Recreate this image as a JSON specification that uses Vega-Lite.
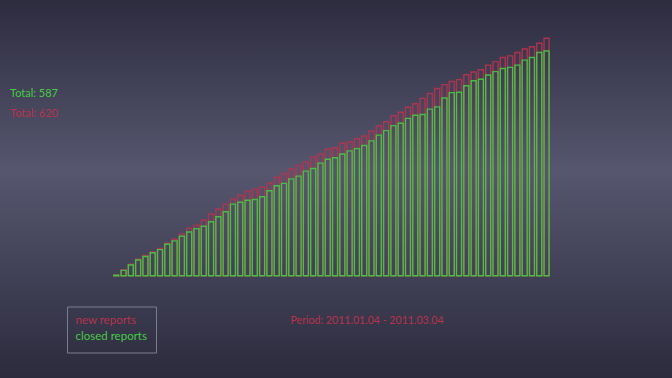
{
  "$schema": "https://vega.github.io/schema/vega-lite/v6.json",
  "width": 672,
  "height": 378,
  "autosize": {"type": "none"},
  "padding": 0,
  "background": "#45455e",
  "config": {
    "view": {
      "stroke": null,
      "fill": {"gradient": "linear", "x1": 0, "y1": 0, "x2": 0, "y2": 1,
        "stops": [
          {"offset": 0, "color": "#2d2c3f"},
          {"offset": 0.45, "color": "#56566f"},
          {"offset": 1, "color": "#2c2b3d"}
        ]}
    },
    "font": "Lato"
  },
  "datasets": {
    "reports": [
      {"date": "2011-01-04", "series": "new reports", "total": "Total: 620", "count": 1},
      {"date": "2011-01-05", "series": "new reports", "total": "Total: 620", "count": 15},
      {"date": "2011-01-06", "series": "new reports", "total": "Total: 620", "count": 30},
      {"date": "2011-01-07", "series": "new reports", "total": "Total: 620", "count": 43},
      {"date": "2011-01-08", "series": "new reports", "total": "Total: 620", "count": 53},
      {"date": "2011-01-09", "series": "new reports", "total": "Total: 620", "count": 62},
      {"date": "2011-01-10", "series": "new reports", "total": "Total: 620", "count": 71},
      {"date": "2011-01-11", "series": "new reports", "total": "Total: 620", "count": 85},
      {"date": "2011-01-12", "series": "new reports", "total": "Total: 620", "count": 96},
      {"date": "2011-01-13", "series": "new reports", "total": "Total: 620", "count": 109},
      {"date": "2011-01-14", "series": "new reports", "total": "Total: 620", "count": 124},
      {"date": "2011-01-15", "series": "new reports", "total": "Total: 620", "count": 132},
      {"date": "2011-01-16", "series": "new reports", "total": "Total: 620", "count": 145},
      {"date": "2011-01-17", "series": "new reports", "total": "Total: 620", "count": 161},
      {"date": "2011-01-18", "series": "new reports", "total": "Total: 620", "count": 174},
      {"date": "2011-01-19", "series": "new reports", "total": "Total: 620", "count": 187},
      {"date": "2011-01-20", "series": "new reports", "total": "Total: 620", "count": 200},
      {"date": "2011-01-21", "series": "new reports", "total": "Total: 620", "count": 210},
      {"date": "2011-01-22", "series": "new reports", "total": "Total: 620", "count": 221},
      {"date": "2011-01-23", "series": "new reports", "total": "Total: 620", "count": 226},
      {"date": "2011-01-24", "series": "new reports", "total": "Total: 620", "count": 231},
      {"date": "2011-01-25", "series": "new reports", "total": "Total: 620", "count": 241},
      {"date": "2011-01-26", "series": "new reports", "total": "Total: 620", "count": 257},
      {"date": "2011-01-27", "series": "new reports", "total": "Total: 620", "count": 267},
      {"date": "2011-01-28", "series": "new reports", "total": "Total: 620", "count": 279},
      {"date": "2011-01-29", "series": "new reports", "total": "Total: 620", "count": 288},
      {"date": "2011-01-30", "series": "new reports", "total": "Total: 620", "count": 297},
      {"date": "2011-01-31", "series": "new reports", "total": "Total: 620", "count": 310},
      {"date": "2011-02-01", "series": "new reports", "total": "Total: 620", "count": 318},
      {"date": "2011-02-02", "series": "new reports", "total": "Total: 620", "count": 331},
      {"date": "2011-02-03", "series": "new reports", "total": "Total: 620", "count": 334},
      {"date": "2011-02-04", "series": "new reports", "total": "Total: 620", "count": 346},
      {"date": "2011-02-05", "series": "new reports", "total": "Total: 620", "count": 349},
      {"date": "2011-02-06", "series": "new reports", "total": "Total: 620", "count": 358},
      {"date": "2011-02-07", "series": "new reports", "total": "Total: 620", "count": 365},
      {"date": "2011-02-08", "series": "new reports", "total": "Total: 620", "count": 378},
      {"date": "2011-02-09", "series": "new reports", "total": "Total: 620", "count": 391},
      {"date": "2011-02-10", "series": "new reports", "total": "Total: 620", "count": 402},
      {"date": "2011-02-11", "series": "new reports", "total": "Total: 620", "count": 418},
      {"date": "2011-02-12", "series": "new reports", "total": "Total: 620", "count": 427},
      {"date": "2011-02-13", "series": "new reports", "total": "Total: 620", "count": 440},
      {"date": "2011-02-14", "series": "new reports", "total": "Total: 620", "count": 449},
      {"date": "2011-02-15", "series": "new reports", "total": "Total: 620", "count": 463},
      {"date": "2011-02-16", "series": "new reports", "total": "Total: 620", "count": 476},
      {"date": "2011-02-17", "series": "new reports", "total": "Total: 620", "count": 489},
      {"date": "2011-02-18", "series": "new reports", "total": "Total: 620", "count": 499},
      {"date": "2011-02-19", "series": "new reports", "total": "Total: 620", "count": 507},
      {"date": "2011-02-20", "series": "new reports", "total": "Total: 620", "count": 512},
      {"date": "2011-02-21", "series": "new reports", "total": "Total: 620", "count": 525},
      {"date": "2011-02-22", "series": "new reports", "total": "Total: 620", "count": 532},
      {"date": "2011-02-23", "series": "new reports", "total": "Total: 620", "count": 538},
      {"date": "2011-02-24", "series": "new reports", "total": "Total: 620", "count": 550},
      {"date": "2011-02-25", "series": "new reports", "total": "Total: 620", "count": 559},
      {"date": "2011-02-26", "series": "new reports", "total": "Total: 620", "count": 570},
      {"date": "2011-02-27", "series": "new reports", "total": "Total: 620", "count": 574},
      {"date": "2011-02-28", "series": "new reports", "total": "Total: 620", "count": 583},
      {"date": "2011-03-01", "series": "new reports", "total": "Total: 620", "count": 592},
      {"date": "2011-03-02", "series": "new reports", "total": "Total: 620", "count": 598},
      {"date": "2011-03-03", "series": "new reports", "total": "Total: 620", "count": 607},
      {"date": "2011-03-04", "series": "new reports", "total": "Total: 620", "count": 620},
      {"date": "2011-01-04", "series": "closed reports", "total": "Total: 587", "count": 1},
      {"date": "2011-01-05", "series": "closed reports", "total": "Total: 587", "count": 14},
      {"date": "2011-01-06", "series": "closed reports", "total": "Total: 587", "count": 28},
      {"date": "2011-01-07", "series": "closed reports", "total": "Total: 587", "count": 41},
      {"date": "2011-01-08", "series": "closed reports", "total": "Total: 587", "count": 50},
      {"date": "2011-01-09", "series": "closed reports", "total": "Total: 587", "count": 60},
      {"date": "2011-01-10", "series": "closed reports", "total": "Total: 587", "count": 68},
      {"date": "2011-01-11", "series": "closed reports", "total": "Total: 587", "count": 82},
      {"date": "2011-01-12", "series": "closed reports", "total": "Total: 587", "count": 91},
      {"date": "2011-01-13", "series": "closed reports", "total": "Total: 587", "count": 103},
      {"date": "2011-01-14", "series": "closed reports", "total": "Total: 587", "count": 114},
      {"date": "2011-01-15", "series": "closed reports", "total": "Total: 587", "count": 123},
      {"date": "2011-01-16", "series": "closed reports", "total": "Total: 587", "count": 129},
      {"date": "2011-01-17", "series": "closed reports", "total": "Total: 587", "count": 141},
      {"date": "2011-01-18", "series": "closed reports", "total": "Total: 587", "count": 154},
      {"date": "2011-01-19", "series": "closed reports", "total": "Total: 587", "count": 167},
      {"date": "2011-01-20", "series": "closed reports", "total": "Total: 587", "count": 187},
      {"date": "2011-01-21", "series": "closed reports", "total": "Total: 587", "count": 192},
      {"date": "2011-01-22", "series": "closed reports", "total": "Total: 587", "count": 197},
      {"date": "2011-01-23", "series": "closed reports", "total": "Total: 587", "count": 199},
      {"date": "2011-01-24", "series": "closed reports", "total": "Total: 587", "count": 206},
      {"date": "2011-01-25", "series": "closed reports", "total": "Total: 587", "count": 222},
      {"date": "2011-01-26", "series": "closed reports", "total": "Total: 587", "count": 235},
      {"date": "2011-01-27", "series": "closed reports", "total": "Total: 587", "count": 241},
      {"date": "2011-01-28", "series": "closed reports", "total": "Total: 587", "count": 253},
      {"date": "2011-01-29", "series": "closed reports", "total": "Total: 587", "count": 260},
      {"date": "2011-01-30", "series": "closed reports", "total": "Total: 587", "count": 273},
      {"date": "2011-01-31", "series": "closed reports", "total": "Total: 587", "count": 280},
      {"date": "2011-02-01", "series": "closed reports", "total": "Total: 587", "count": 294},
      {"date": "2011-02-02", "series": "closed reports", "total": "Total: 587", "count": 304},
      {"date": "2011-02-03", "series": "closed reports", "total": "Total: 587", "count": 308},
      {"date": "2011-02-04", "series": "closed reports", "total": "Total: 587", "count": 318},
      {"date": "2011-02-05", "series": "closed reports", "total": "Total: 587", "count": 326},
      {"date": "2011-02-06", "series": "closed reports", "total": "Total: 587", "count": 332},
      {"date": "2011-02-07", "series": "closed reports", "total": "Total: 587", "count": 340},
      {"date": "2011-02-08", "series": "closed reports", "total": "Total: 587", "count": 352},
      {"date": "2011-02-09", "series": "closed reports", "total": "Total: 587", "count": 367},
      {"date": "2011-02-10", "series": "closed reports", "total": "Total: 587", "count": 379},
      {"date": "2011-02-11", "series": "closed reports", "total": "Total: 587", "count": 392},
      {"date": "2011-02-12", "series": "closed reports", "total": "Total: 587", "count": 398},
      {"date": "2011-02-13", "series": "closed reports", "total": "Total: 587", "count": 411},
      {"date": "2011-02-14", "series": "closed reports", "total": "Total: 587", "count": 419},
      {"date": "2011-02-15", "series": "closed reports", "total": "Total: 587", "count": 421},
      {"date": "2011-02-16", "series": "closed reports", "total": "Total: 587", "count": 435},
      {"date": "2011-02-17", "series": "closed reports", "total": "Total: 587", "count": 441},
      {"date": "2011-02-18", "series": "closed reports", "total": "Total: 587", "count": 464},
      {"date": "2011-02-19", "series": "closed reports", "total": "Total: 587", "count": 478},
      {"date": "2011-02-20", "series": "closed reports", "total": "Total: 587", "count": 479},
      {"date": "2011-02-21", "series": "closed reports", "total": "Total: 587", "count": 496},
      {"date": "2011-02-22", "series": "closed reports", "total": "Total: 587", "count": 509},
      {"date": "2011-02-23", "series": "closed reports", "total": "Total: 587", "count": 513},
      {"date": "2011-02-24", "series": "closed reports", "total": "Total: 587", "count": 524},
      {"date": "2011-02-25", "series": "closed reports", "total": "Total: 587", "count": 533},
      {"date": "2011-02-26", "series": "closed reports", "total": "Total: 587", "count": 541},
      {"date": "2011-02-27", "series": "closed reports", "total": "Total: 587", "count": 544},
      {"date": "2011-02-28", "series": "closed reports", "total": "Total: 587", "count": 550},
      {"date": "2011-03-01", "series": "closed reports", "total": "Total: 587", "count": 563},
      {"date": "2011-03-02", "series": "closed reports", "total": "Total: 587", "count": 570},
      {"date": "2011-03-03", "series": "closed reports", "total": "Total: 587", "count": 583},
      {"date": "2011-03-04", "series": "closed reports", "total": "Total: 587", "count": 587}
    ]
  },
  "data": {"name": "reports"},
  "mark": {"type": "bar", "fill": "transparent", "strokeWidth": 1.4, "strokeOpacity": 0.9},
  "encoding": {
    "x": {
      "field": "date", "type": "ordinal",
      "scale": {"range": [112.6, 550.2], "paddingInner": 0.31, "paddingOuter": 0.155},
      "axis": {
        "title": "Period: 2011.01.04 - 2011.03.04",
        "labels": false, "ticks": false, "domain": false, "grid": false,
        "titleColor": "#b8334d", "titleFont": "Lato", "titleFontSize": 10.6, "titleFontWeight": "normal",
        "titleX": 366.5, "titleY": -57.5, "titleBaseline": "middle", "titleAlign": "center", "titleAngle": 0
      }
    },
    "y": {
      "field": "count", "type": "quantitative", "stack": null,
      "scale": {"domain": [0, 620], "range": [275.7, 38.3], "nice": false, "zero": true},
      "axis": null
    },
    "stroke": {
      "field": "series", "type": "nominal",
      "scale": {"domain": ["new reports", "closed reports"], "range": ["#b8334d", "#44cc44"]},
      "legend": {
        "orient": "none", "legendX": 67, "legendY": 306.5, "title": null,
        "symbolSize": 0.01, "symbolStrokeWidth": 0, "symbolOpacity": 0, "labelOffset": -12,
        "labelFont": "Lato", "labelFontSize": 11.5, "rowPadding": 3, "padding": 9,
        "strokeColor": "#7c7c90", "fillColor": null,
        "labelColor": {"expr": "datum.value === 'new reports' ? '#b8334d' : '#44cc44'"}
      }
    },
    "strokeDash": {
      "field": "total", "type": "nominal",
      "scale": {"domain": ["Total: 587", "Total: 620"], "range": [[1, 0], [1, 0]]},
      "legend": {
        "orient": "none", "legendX": 10, "legendY": 88, "title": null,
        "symbolSize": 0.01, "symbolStrokeWidth": 0, "symbolOpacity": 0, "labelOffset": -11,
        "labelFont": "Lato", "labelFontSize": 11, "rowPadding": 8, "padding": 0,
        "labelColor": {"expr": "datum.value === 'Total: 620' ? '#b8334d' : '#44cc44'"}
      }
    }
  }
}
